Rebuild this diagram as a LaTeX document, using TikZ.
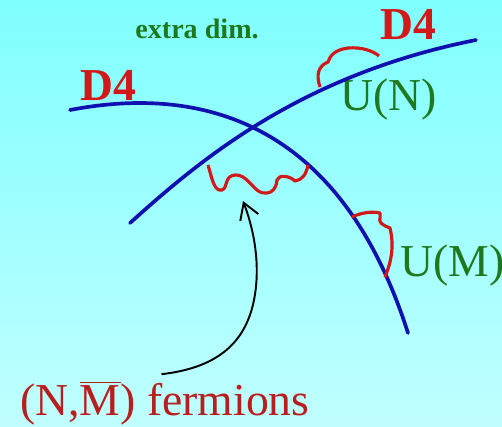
\documentclass[tikz,border=0pt]{standalone}
\usepackage{fontspec}
\setmainfont{Liberation Serif}
\usetikzlibrary{arrows.meta}
\definecolor{skytop}{RGB}{128,255,255}
\definecolor{skybot}{RGB}{192,255,255}
\definecolor{brane}{RGB}{16,16,176}
\definecolor{string}{RGB}{210,24,24}
\definecolor{gauge}{RGB}{30,120,30}
\definecolor{fermred}{RGB}{185,30,30}
\tikzset{
  branecurve/.style={brane, line width=2.1pt, line cap=round},
  openstring/.style={string, line width=1.8pt, line join=round},
  branelabel/.style={string, font=\fontsize{26}{28}\selectfont\bfseries, inner sep=0pt},
  grouplabel/.style={gauge, font=\fontsize{26}{30}\selectfont, inner sep=0pt},
}
\begin{document}
\begin{tikzpicture}[x=0.02cm, y=-0.02cm]
  % background
  \shade[top color=skytop, bottom color=skybot] (0,0) rectangle (502,426);
  \useasboundingbox (0,0) rectangle (502,426);
  % labels
  \node[gauge, font=\fontsize{16}{18}\selectfont\bfseries, anchor=base west, inner sep=0pt] (extra) at (135,38) {extra dim.};
  \node[branelabel, anchor=base west] (dright) at (380,39) {D4};
  \node[branelabel, anchor=base west] (dleft) at (80,100) {D4};
  \node[grouplabel, anchor=base west] (un) at (340,110) {U(N)};
  \node[grouplabel, anchor=base west] (um) at (400,276) {U(M)};
  \node[fermred, font=\fontsize{26}{30}\selectfont, anchor=base west, inner sep=0pt] (ferm) at (20,415)
    {(N,$\overline{\hbox{M}}$) fermions};
  % branes
  \draw[branecurve] (130,223) .. controls (200,160) and (300,75) .. (476,40);
  \draw[branecurve] (70,110) .. controls (200,85) and (340,120) .. (408,333);
  % strings
  \draw[openstring] (208,165) .. controls (212,178) and (214,192) .. (222,190)
    .. controls (228,188) and (224,176) .. (235,175)
    .. controls (246,174) and (252,188) .. (260,192)
    .. controls (268,195) and (276,192) .. (277,180)
    .. controls (279,174) and (290,176) .. (295,181)
    .. controls (302,180) and (306,175) .. (308,165);
  \draw[openstring] (320,87) .. controls (316,75) and (318,66) .. (328,62)
    .. controls (330,56) and (334,50) .. (348,48)
    .. controls (360,47) and (372,50) .. (379,56);
  \draw[openstring] (352,217) .. controls (360,213) and (372,211) .. (380,213)
    .. controls (382,218) and (374,222) .. (390,228)
    .. controls (394,245) and (392,260) .. (385,277);
  % arrow
  \coordinate (tip) at (243,201);
  \draw[line width=1.1pt, -{Straight Barb[length=9pt, width=11pt]}] ([xshift=-2pt, yshift=4pt]ferm.north)
    .. controls (215,368) and (245,345) .. (254,300)
    .. controls (260,270) and (256,235) .. (tip);
\end{tikzpicture}
\end{document}
